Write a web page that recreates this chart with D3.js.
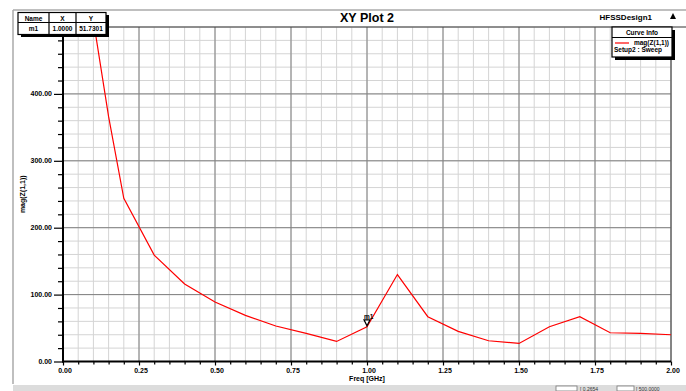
<!DOCTYPE html>
<html><head><meta charset="utf-8">
<script src="https://cdn.jsdelivr.net/npm/d3@7"></script>
<style>
html,body{margin:0;padding:0;background:#fff;}
svg{display:block;font-family:"Liberation Sans",Arial,sans-serif;}
</style></head>
<body><svg id="c" width="686" height="391"></svg>
<script>
const freq = [0.1,0.15,0.2,0.3,0.4,0.5,0.6,0.7,0.8,0.9,1.0,1.1,1.2,1.3,1.4,1.5,1.6,1.7,1.8,1.9,2.0];
const magZ = [510,366,244,159,116,89,69,53,42,30,51.7301,130,67,45,31,27,52,67,43,42,40];
const xTicks = [0,0.25,0.5,0.75,1.0,1.25,1.5,1.75,2.0];
const yTicks = [0,100,200,300,400];
const title = "XY Plot 2";
const design = "HFSSDesign1";
const xTitle = "Freq [GHz]";
const yTitle = "mag(Z(1,1))";
const legendName = "mag(Z(1,1))";
const legendSetup = "Setup2 : Sweep";
const marker = {name:"m1", x:1.0, y:51.7301};

const svg = d3.select("#c");
const L=63, R=671, T=27, B=361.5;
const x = d3.scaleLinear().domain([0,2]).range([L,R]);
const y = d3.scaleLinear().domain([0,500]).range([B,T]);

// outer frame
svg.append("line").attr("x1",13).attr("x2",686).attr("y1",10).attr("y2",10).attr("stroke","#aaa").attr("stroke-width",1.5);
svg.append("line").attr("x1",13).attr("x2",13).attr("y1",10).attr("y2",384).attr("stroke","#aaa").attr("stroke-width",1.5);
svg.append("rect").attr("x",13).attr("y",385).attr("width",673).attr("height",6).attr("fill","#dcdcdc");
svg.append("rect").attr("x",556).attr("y",386).attr("width",21).attr("height",5).attr("fill","#fff").attr("stroke","#777").attr("stroke-width",0.8);
svg.append("rect").attr("x",617).attr("y",386).attr("width",17).attr("height",5).attr("fill","#fff").attr("stroke","#777").attr("stroke-width",0.8);
svg.append("text").attr("x",580).attr("y",390.5).attr("font-size",5).attr("fill","#333").text("[ 0.2654");
svg.append("text").attr("x",636).attr("y",390.5).attr("font-size",5).attr("fill","#333").text("[ 500.0000");

// grid
const g = svg.append("g");
const minorX = d3.range(0,2.0001,0.05);
const minorY = d3.range(0,500.001,20);
g.selectAll(".mx").data(minorX).join("line").attr("x1",d=>x(d)).attr("x2",d=>x(d)).attr("y1",T).attr("y2",B).attr("stroke","#d4d4d4").attr("stroke-width",1);
g.selectAll(".my").data(minorY).join("line").attr("y1",d=>y(d)).attr("y2",d=>y(d)).attr("x1",L).attr("x2",R).attr("stroke","#d4d4d4").attr("stroke-width",1);
g.selectAll(".Mx").data(xTicks).join("line").attr("x1",d=>x(d)).attr("x2",d=>x(d)).attr("y1",T).attr("y2",B).attr("stroke","#808080").attr("stroke-width",1);
g.selectAll(".My").data(yTicks).join("line").attr("y1",d=>y(d)).attr("y2",d=>y(d)).attr("x1",L).attr("x2",R).attr("stroke","#808080").attr("stroke-width",1);
// plot border
svg.append("line").attr("x1",L).attr("x2",686).attr("y1",T).attr("y2",T).attr("stroke","#333").attr("stroke-width",1);
svg.append("line").attr("x1",R).attr("x2",R).attr("y1",T).attr("y2",B).attr("stroke","#555").attr("stroke-width",1);

// axes
const yAxis = d3.axisLeft(y).tickValues(minorY).tickSize(0).tickFormat("");
const ya = svg.append("g").attr("transform",`translate(${L},0)`).call(yAxis);
ya.select(".domain").remove();
ya.selectAll(".tick line").attr("x2",d=>d%100===0?-9:-5).attr("stroke","#000").attr("stroke-width",1.2);
const xAxis = d3.axisBottom(x).tickValues(minorX).tickSize(0).tickFormat("");
const xa = svg.append("g").attr("transform",`translate(0,${B})`).call(xAxis);
xa.select(".domain").remove();
xa.selectAll(".tick line").attr("y2",d=>Math.abs(d*4-Math.round(d*4))<1e-6?4:3).attr("stroke","#000").attr("stroke-width",1.2);
svg.append("line").attr("x1",L).attr("x2",L).attr("y1",T).attr("y2",B+1).attr("stroke","#000").attr("stroke-width",2);
svg.append("line").attr("x1",L-1).attr("x2",R).attr("y1",B).attr("y2",B).attr("stroke","#000").attr("stroke-width",2);

// tick labels
svg.selectAll(".yl").data(yTicks).join("text").attr("x",52).attr("y",d=>y(d)+2.5).attr("text-anchor","end").attr("font-size",7).attr("font-weight","bold").text(d=>d.toFixed(2));
svg.selectAll(".xl").data(xTicks).join("text").attr("x",d=>x(d)+2).attr("y",373).attr("text-anchor","middle").attr("font-size",7).attr("font-weight","bold").text(d=>d.toFixed(2));
svg.append("text").attr("x",x(1.0)).attr("y",381).attr("text-anchor","middle").attr("font-size",7).attr("font-weight","bold").text(xTitle);
svg.append("text").attr("transform",`translate(25,${(T+B)/2}) rotate(-90)`).attr("text-anchor","middle").attr("font-size",7).attr("font-weight","bold").text(yTitle);

// curve
svg.append("clipPath").attr("id","clp").append("rect").attr("x",L).attr("y",T).attr("width",R-L).attr("height",B-T);
const line = d3.line().x((d,i)=>x(freq[i])).y(d=>y(d));
svg.append("path").datum(magZ).attr("d",line).attr("fill","none").attr("stroke","#ff0000").attr("stroke-width",1.2).attr("clip-path","url(#clp)");

// marker
const mx = x(marker.x), my = y(marker.y);
svg.append("path").attr("d",`M${mx-3},${my-7} L${mx+3},${my-7} L${mx},${my-1} Z`).attr("fill","#fff").attr("stroke","#000").attr("stroke-width",1.2);
svg.append("text").attr("x",mx-3).attr("y",my-8).attr("font-size",6.5).attr("font-weight","bold").text(marker.name);

// title
svg.append("text").attr("x",367).attr("y",22).attr("text-anchor","middle").attr("font-size",12.5).attr("font-weight","bold").text(title);
svg.append("text").attr("x",652).attr("y",20).attr("text-anchor","end").attr("font-size",8).attr("font-weight","bold").text(design);
svg.append("path").attr("d","M670,19 L676,19 L673,13 Z").attr("fill","#000");

// marker table
const tb = svg.append("g");
tb.append("rect").attr("x",21).attr("y",15).attr("width",88).attr("height",22).attr("fill","#000");
tb.append("rect").attr("x",18).attr("y",12.5).attr("width",88).attr("height",22).attr("fill","#fff").attr("stroke","#000").attr("stroke-width",1.2);
tb.append("line").attr("x1",18).attr("x2",106).attr("y1",22.5).attr("y2",22.5).attr("stroke","#000").attr("stroke-width",1.2);
[49,76].forEach(cx=>tb.append("line").attr("x1",cx).attr("x2",cx).attr("y1",12.5).attr("y2",34.5).attr("stroke","#000").attr("stroke-width",1.2));
const hdr=[["Name",33.5],["X",62.5],["Y",91]];
hdr.forEach(h=>tb.append("text").attr("x",h[1]).attr("y",20.5).attr("text-anchor","middle").attr("font-size",6.5).attr("font-weight","bold").text(h[0]));
const row=[[marker.name,33.5],[marker.x.toFixed(4),62.5],[marker.y.toFixed(4),91]];
row.forEach(h=>tb.append("text").attr("x",h[1]).attr("y",31).attr("text-anchor","middle").attr("font-size",6.5).attr("font-weight","bold").text(h[0]));

// legend
const lg = svg.append("g");
lg.append("rect").attr("x",615).attr("y",30).attr("width",60).attr("height",30).attr("fill","#000");
lg.append("rect").attr("x",612).attr("y",27).attr("width",60).attr("height",30).attr("fill","#fff").attr("stroke","#000").attr("stroke-width",1.2);
lg.append("line").attr("x1",612).attr("x2",672).attr("y1",37.5).attr("y2",37.5).attr("stroke","#000").attr("stroke-width",1);
lg.append("text").attr("x",642).attr("y",35).attr("text-anchor","middle").attr("font-size",6.5).attr("font-weight","bold").text("Curve Info");
lg.append("line").attr("x1",615).attr("x2",629).attr("y1",43).attr("y2",43).attr("stroke","#ff0000").attr("stroke-width",1.2);
lg.append("text").attr("x",669).attr("y",45).attr("text-anchor","end").attr("font-size",6.5).attr("font-weight","bold").text(legendName);
lg.append("text").attr("x",614).attr("y",52).attr("font-size",6.5).attr("font-weight","bold").text(legendSetup);
</script></body></html>
